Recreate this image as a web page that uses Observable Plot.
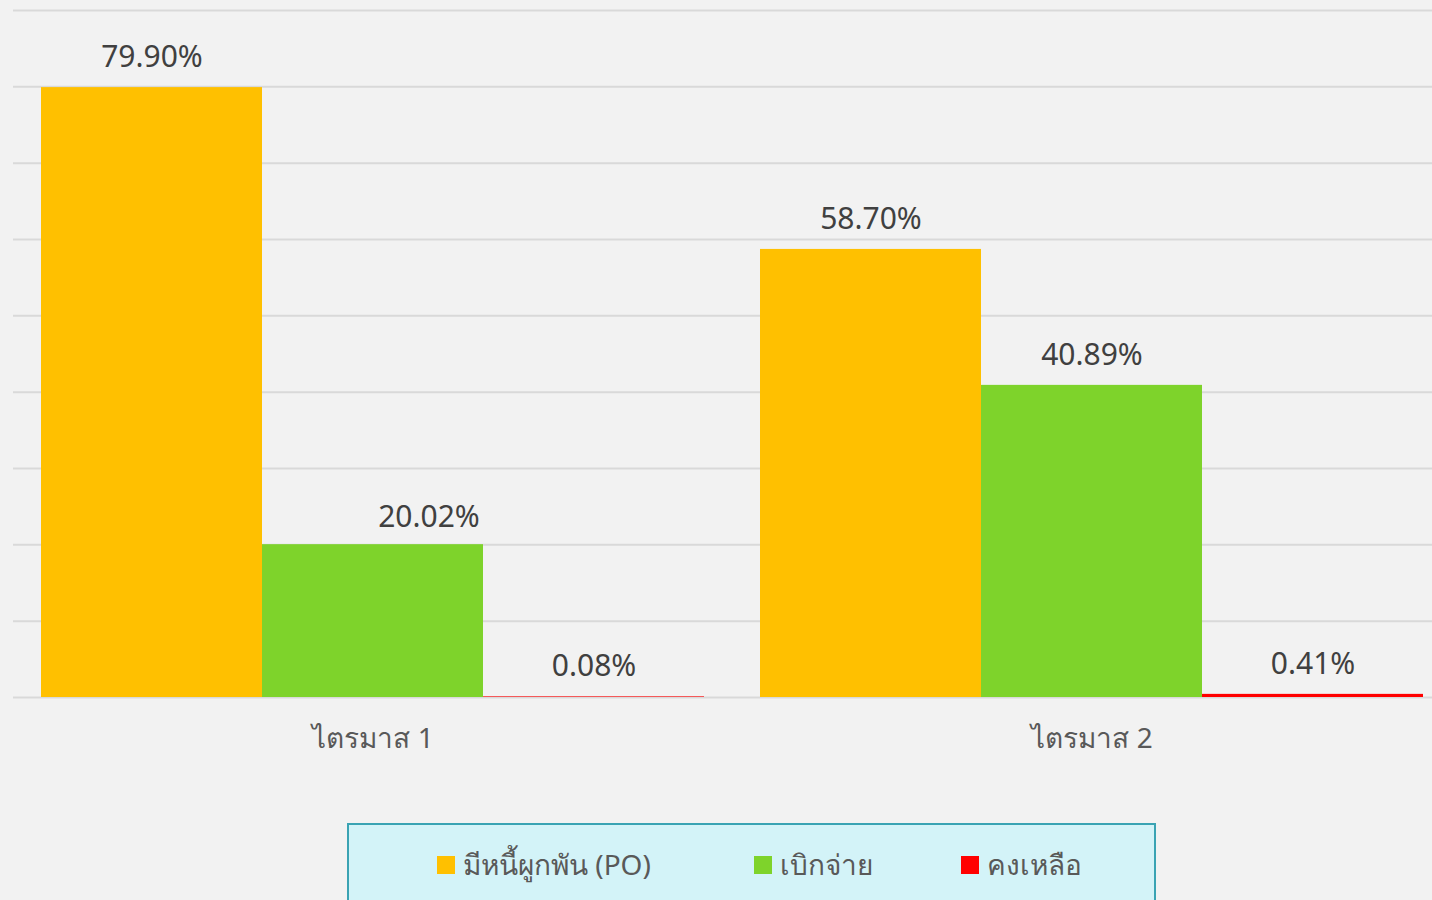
<!DOCTYPE html>
<html>
<head>
<meta charset="utf-8">
<script src="https://cdn.jsdelivr.net/npm/d3@7"></script>
<script src="https://cdn.jsdelivr.net/npm/@observablehq/plot@0.6"></script>
<style>
  html, body { margin: 0; padding: 0; background: #f2f2f2; width: 1432px; height: 900px; overflow: hidden; }
  #wrap { position: relative; width: 1432px; height: 900px; }
  #chart svg { display: block; overflow: hidden; }
  #legend { position: absolute; left: 347px; top: 823px; width: 809px; height: 90px;
    background: #d3f3f8; border: 2px solid #3aa3b3; box-sizing: border-box;
    display: flex; align-items: flex-start; padding-left: 88px; white-space: nowrap;
    font-family: "Noto Sans", "Open Sans", sans-serif; font-size: 28px; color: #595959; }
  .item { display: flex; align-items: center; margin-top: 22px; height: 36px; flex: none; }
  .item:nth-child(1) { margin-right: 103px; }
  .item:nth-child(2) { margin-right: 88px; }
  .sw { width: 18px; height: 18px; margin-right: 8px; flex: none; }
</style>
</head>
<body>
<div id="wrap">
  <div id="chart"></div>
  <div id="legend"></div>
</div>
<script>
const quarters = ["ไตรมาส 1", "ไตรมาส 2"];
const series = ["มีหนี้ผูกพัน (PO)", "เบิกจ่าย", "คงเหลือ"];
const colors = ["#FFC000", "#7ED32B", "#FF0000"];
const q1Values = [79.90, 20.02, 0.08];
const q2Values = [58.70, 40.89, 0.41];
const yTicks = [0, 10, 20, 30, 40, 50, 60, 70, 80, 90];

const rows = [];
[q1Values, q2Values].forEach((vals, qi) => {
  vals.forEach((v, si) => rows.push({quarter: quarters[qi], series: series[si], value: v}));
});

const font = '"Noto Sans", "Open Sans", sans-serif';
const fmt = d => d.value.toFixed(2) + "%";
// the Q1 disbursement label is nudged right in the original
const isShifted = d => d.quarter === quarters[0] && d.series === series[1];

const chart = Plot.plot({
  width: 1432,
  height: 790,
  marginLeft: 14,
  marginRight: -18,
  marginTop: 10,
  marginBottom: 93,
  style: {background: "#f2f2f2", fontFamily: font, fontSize: "28px", color: "#595959"},
  fx: {domain: quarters, paddingInner: 0.078, paddingOuter: 0.0376, label: null, axis: "bottom", tickSize: 0, tickPadding: 31},
  x: {domain: series, padding: 0, axis: null},
  y: {domain: [0, 90], axis: null},
  color: {domain: series, range: colors},
  marks: [
    Plot.ruleY(yTicks, {stroke: "#d9d9d9", strokeWidth: 2, insetLeft: -28, insetRight: -28}),
    Plot.barY(rows, {fx: "quarter", x: "series", y: "value", fill: "series"}),
    Plot.text(rows.filter(d => !isShifted(d)), {fx: "quarter", x: "series", y: "value", text: fmt,
      dy: -30, fill: "#404040", fontSize: 30, lineAnchor: "middle"}),
    Plot.text(rows.filter(isShifted), {fx: "quarter", x: "series", y: "value", text: fmt,
      dy: -27, dx: 56, fill: "#404040", fontSize: 30, lineAnchor: "middle"})
  ]
});
document.getElementById("chart").appendChild(chart);

const legend = document.getElementById("legend");
series.forEach((s, i) => {
  const it = document.createElement("div");
  it.className = "item";
  const sw = document.createElement("div");
  sw.className = "sw";
  sw.style.background = colors[i];
  const t = document.createElement("span");
  t.textContent = s;
  it.appendChild(sw); it.appendChild(t);
  legend.appendChild(it);
});
</script>
</body>
</html>
